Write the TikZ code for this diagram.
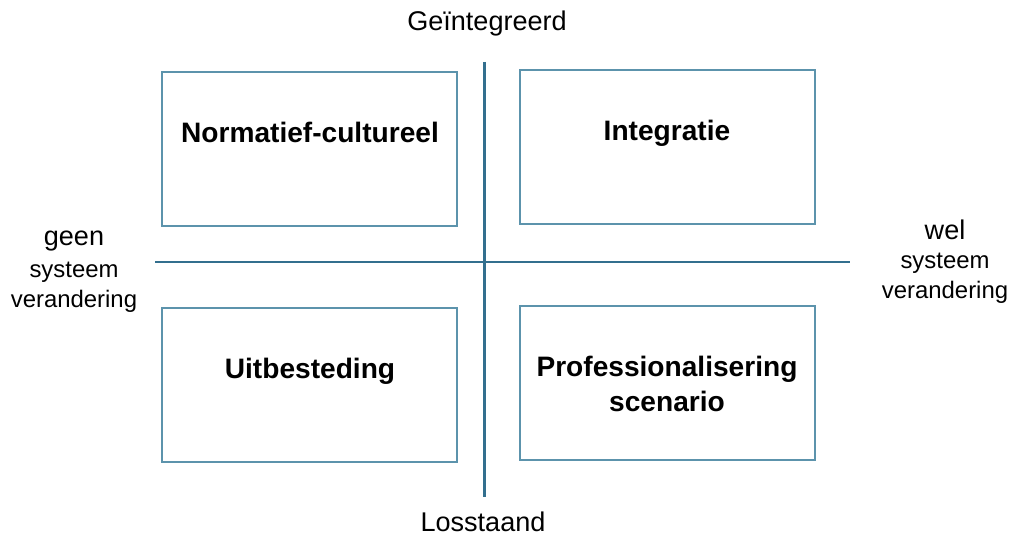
\documentclass[tikz,border=0pt]{standalone}
\usepackage{fontspec}
\setmainfont{Liberation Sans}

\definecolor{axisblue}{HTML}{336F8E}
\definecolor{boxblue}{HTML}{5C93AC}

\begin{document}
\begin{tikzpicture}[x=0.02cm, y=-0.02cm]
\tikzstyle{box_style} = [draw=boxblue, line width=0.8pt, minimum width=5.9cm, minimum height=3.08cm, inner sep=0pt]
\tikzstyle{title_style} = [font=\fontsize{16}{20}\selectfont\bfseries, align=center, inner sep=0pt]
\tikzstyle{axis_style} = [draw=axisblue, line width=1.7pt]
\tikzstyle{big_style} = [font=\fontsize{15.4}{18}\selectfont, inner sep=0pt]
\tikzstyle{small_style} = [font=\fontsize{13.6}{16}\selectfont, inner sep=0pt]

\useasboundingbox (0,0) rectangle (1013,537);

% de vier kwadranten
\node[box_style] (nc) at (309.5,149) {};
\node[box_style] (in) at (667.5,147) {};
\node[box_style] (ui) at (309.5,385) {};
\node[box_style] (pr) at (667.5,383) {};

\node[title_style] (nc_t) at (310,132) {Normatief-cultureel};
\node[title_style] (in_t) at (667,133) {Integratie};
\node[title_style] (ui_t) at (310,371) {Uitbesteding};
\node[title_style, text depth=0pt] (pr_t) at (667,384) {Professionalisering\\scenario};

% assen
\coordinate (top) at (484,62);
\coordinate (bottom) at (484,497);
\coordinate (left) at (155,262);
\coordinate (right) at (850,262);
\draw[axis_style] (top) -- (bottom);
\draw[axis_style] (left) -- (right);

\node[big_style] (gi) at (487,24) {Geïntegreerd};
\node[big_style] (ls) at (483,522) {Losstaand};

\node[big_style] (geen) at (74,241) {geen};
\node[small_style] (geen_s) at (74,272) {systeem};
\node[small_style] (geen_v) at (74,301) {verandering};

\node[big_style] (wel) at (945,230) {wel};
\node[small_style] (wel_s) at (945,263) {systeem};
\node[small_style] (wel_v) at (945,292) {verandering};
\end{tikzpicture}
\end{document}
